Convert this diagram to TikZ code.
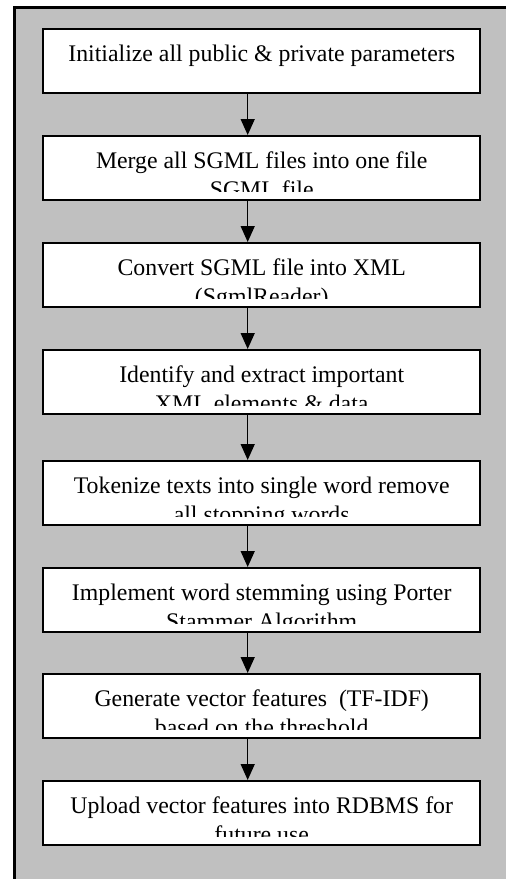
\documentclass[tikz,border=0pt]{standalone}
\usepackage{fontspec}
\setmainfont{Liberation Serif}
\usetikzlibrary{arrows.meta}
\definecolor{panelgray}{RGB}{192,192,192}
\tikzset{
  boxst/.style={draw=black, fill=white, line width=2pt, minimum width=436.7pt, minimum height=64pt, inner sep=0pt, anchor=north},
  txt/.style={inner sep=0pt, anchor=base, font=\fontsize{23.8}{27.5}\selectfont},
  arr/.style={line width=1.5pt, -{Triangle[width=14pt,length=16pt]}}
}
\newcommand\flowbox[4]{%
  \node[boxst] (#1) at (261.7,-#2) {};
  \begin{scope}
    \clip ([xshift=1pt,yshift=9.5pt]#1.south west) rectangle ([xshift=-1pt,yshift=-1pt]#1.north east);
    \node[txt] (#1a) at ([yshift=-33.8pt]#1.north) {#3};
    \node[txt] (#1b) at ([yshift=-62.3pt]#1.north) {#4};
  \end{scope}}
\begin{document}
\begin{tikzpicture}[x=1pt,y=1pt]
  \clip (0,0) rectangle (506,-879);
  \fill[white] (0,0) rectangle (506,-879);
  \draw[line width=2.4pt, fill=panelgray] (14.5,-7.5) rectangle (530,-900);
  \flowbox{b1}{28}{Initialize all public \& private parameters}{}
  \flowbox{b2}{135}{Merge all SGML files into one file}{SGML file}
  \flowbox{b3}{242}{Convert SGML file into XML}{(SgmlReader)}
  \flowbox{b4}{349}{Identify and extract important}{XML elements \& data}
  \flowbox{b5}{460}{Tokenize texts into single word remove}{all stopping words}
  \flowbox{b6}{567}{Implement word stemming using Porter}{Stammer Algorithm}
  \flowbox{b7}{673}{Generate vector features\ \ (TF-IDF)}{based on the threshold}
  \flowbox{b8}{780}{Upload vector features into RDBMS for}{future use}
  \foreach \a/\b in {b1/b2,b2/b3,b3/b4,b4/b5,b5/b6,b6/b7,b7/b8}
    \draw[arr] ([xshift=-14pt]\a.south) -- ([xshift=-14pt]\b.north);
\end{tikzpicture}
\end{document}
